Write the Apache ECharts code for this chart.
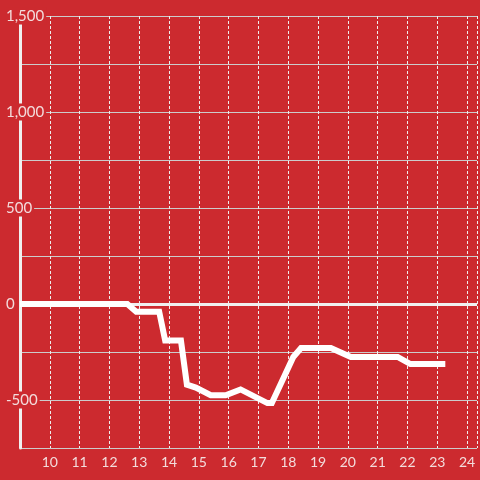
<!DOCTYPE html>
<html>
<head>
<meta charset="utf-8">
<script src="https://cdn.jsdelivr.net/npm/echarts@6/dist/echarts.min.js"></script>
<style>
  html, body { margin: 0; padding: 0; background: #cc2a2f; }
  #chart { width: 480px; height: 480px; }
</style>
</head>
<body>
<div id="chart"></div>
<script>
// hour of day (x) and value (y) for the line
const hours = [9, 12.6, 12.9, 13.67, 13.87, 14.4, 14.6, 14.9, 15.4, 15.9, 16.4, 17.3, 17.45, 18.17, 18.43, 19.43, 20.1, 21.67, 22.1, 23.27];
const values = [0, 0, -40, -40, -190, -190, -420, -435, -475, -475, -445, -516, -516, -276, -229, -229, -276, -276, -313, -313];
const yLabels = [-500, 0, 500, 1000, 1500];

const bg = "#cc2a2f";
const textColor = "#f3dcdc";

const chart = echarts.init(document.getElementById("chart"));

chart.setOption({
  backgroundColor: bg,
  animation: false,
  grid: { left: 20, right: 0, top: 16, bottom: 32 },
  xAxis: {
    type: "value",
    min: 9,
    max: 24.333,
    interval: 1,
    axisLine: { show: false },
    axisTick: { show: false },
    axisLabel: {
      color: textColor,
      fontFamily: "Lato",
      fontSize: 14,
      margin: 7,
      formatter: (v) => (Number.isInteger(v) && v > 9 ? String(v) : ""),
    },
    splitLine: {
      show: true,
      lineStyle: { color: "#eeeeee", width: 1, type: [3, 2] },
    },
  },
  yAxis: {
    type: "value",
    min: -750,
    max: 1500,
    interval: 250,
    axisLine: { show: true, lineStyle: { color: "#f0f0f0", width: 3 } },
    axisTick: { show: false },
    axisLabel: {
      color: textColor,
      fontFamily: "Lato",
      fontSize: 15,
      align: "left",
      margin: 14,
      backgroundColor: bg,
      padding: [1, 2, 1, 0],
      formatter: (v) => (yLabels.includes(v) ? v.toLocaleString("en-US") : ""),
    },
    splitLine: { show: true, lineStyle: { color: "#cccccc", width: 1 } },
  },
  series: [
    {
      type: "line",
      data: hours.map((h, i) => [h, values[i]]),
      showSymbol: false,
      lineStyle: { color: "#ffffff", width: 6, cap: "butt", join: "miter" },
      markLine: {
        silent: true,
        symbol: "none",
        label: { show: false },
        lineStyle: { color: "#f0f0f0", width: 3, type: "solid" },
        data: [{ yAxis: 0 }],
        z: 1,
      },
    },
  ],
});
</script>
</body>
</html>
